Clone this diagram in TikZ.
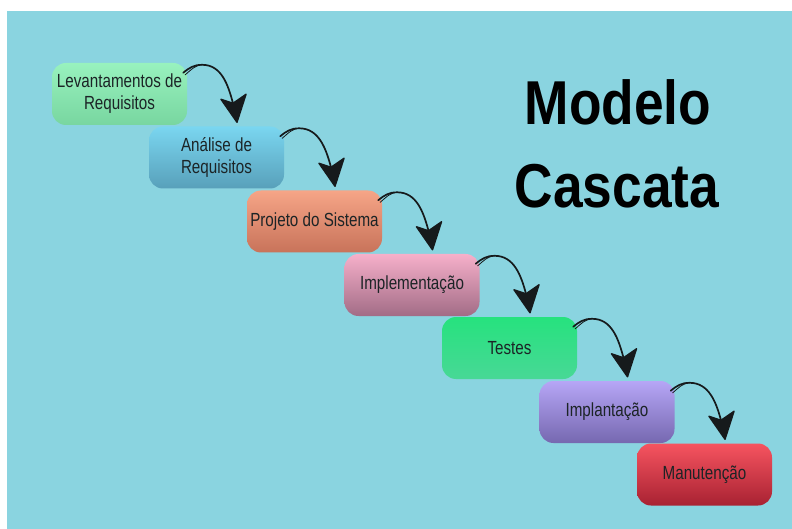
\documentclass[tikz,border=0pt]{standalone}
\usepackage{fontspec}
\setmainfont{Liberation Sans}
\newfontfamily\boxfont[FakeStretch=0.8]{Liberation Sans}
\newfontfamily\titlefont[FakeStretch=0.86]{Liberation Sans}
\definecolor{bg}{RGB}{138,212,224}
\definecolor{txt}{RGB}{28,36,38}
\definecolor{aT}{RGB}{152,242,190}\definecolor{aB}{RGB}{120,214,160}
\definecolor{bT}{RGB}{122,214,240}\definecolor{bB}{RGB}{88,160,186}
\definecolor{cT}{RGB}{246,165,135}\definecolor{cB}{RGB}{200,115,90}
\definecolor{dT}{RGB}{246,176,202}\definecolor{dB}{RGB}{162,108,134}
\definecolor{eT}{RGB}{38,226,126}\definecolor{eB}{RGB}{72,216,150}
\definecolor{fT}{RGB}{182,166,246}\definecolor{fB}{RGB}{118,104,176}
\definecolor{gT}{RGB}{246,84,96}\definecolor{gB}{RGB}{168,34,50}
\definecolor{ink}{RGB}{22,26,28}
\tikzset{
  stage/.style={rounded corners=14pt, minimum width=135pt, minimum height=62pt,
    inner sep=0pt, align=center, text=txt, font=\boxfont\fontsize{19}{22}\selectfont},
  flow/.style={line width=1.7pt, ink, line cap=round},
  flowthin/.style={line width=0.8pt, ink, line cap=round},
  head/.style={fill=ink, draw=ink, line width=1.4pt, line join=round},
  title/.style={font=\titlefont\bfseries\fontsize{62}{62}\selectfont, anchor=base, inner sep=0pt}
}
\begin{document}
\begin{tikzpicture}[x=1pt,y=1pt]
\useasboundingbox (0,0) rectangle (792,-529);
\fill[white] (0,0) rectangle (792,-529);
\fill[bg] (7,-11) rectangle (792,-529);

\node[stage, top color=aT, bottom color=aB] (s1) at (119.5,-94) {Levantamentos de\\Requisitos};
\node[stage, top color=bT, bottom color=bB] (s2) at (216.5,-157.5) {Análise de\\Requisitos};
\node[stage, top color=cT, bottom color=cB] (s3) at (314.5,-221.5) {Projeto do Sistema};
\node[stage, top color=dT, bottom color=dB] (s4) at (412,-285) {Implementação};
\node[stage, top color=eT, bottom color=eB] (s5) at (509.5,-348) {Testes};
\node[stage, top color=fT, bottom color=fB] (s6) at (607,-412) {Implantação};
\node[stage, top color=gT, bottom color=gB] (s7) at (704.5,-474.5) {Manutenção};

\node[title] (t1) at (618,-125) {Modelo};
\node[title] (t2) at (617,-208) {Cascata};

\foreach \a/\b in {s1/s2,s2/s3,s3/s4,s4/s5,s5/s6,s6/s7}{
  \coordinate (st\a) at ([shift={(-4,-10)}]\a.north east);
  \coordinate (en\a) at ([shift={(20.5,4)}]\b.north);
  \coordinate (pk\a) at ([shift={(19,8)}]st\a);
  \draw[flow] (st\a) to[out=40,in=180] (pk\a) to[out=0,in=105] ([shift={(-4,19)}]en\a);
  \draw[flowthin] ([shift={(2,-2)}]st\a) to[out=40,in=185] (pk\a);
  \path[head] (en\a) -- ([shift={(-16,23)}]en\a) -- ([shift={(-4,19)}]en\a) -- ([shift={(9,28)}]en\a) -- cycle;
}
\end{tikzpicture}
\end{document}
